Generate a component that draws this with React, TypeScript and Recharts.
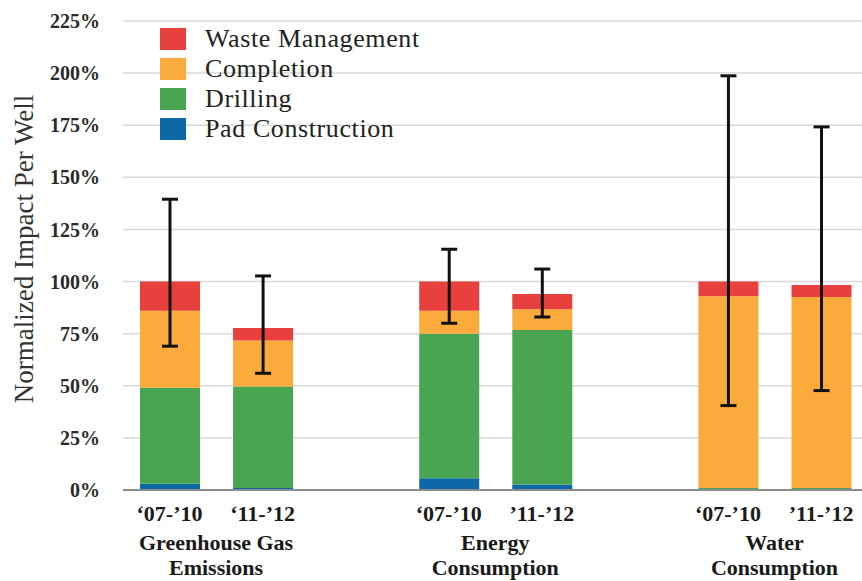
import React from "react";
import {
  BarChart, Bar, XAxis, YAxis, CartesianGrid, ErrorBar, Legend, Label,
} from "recharts";

// period labels under each bar, and the slot each bar sits in (empty slots separate the groups)
const periods = ["‘07-’10", "‘11-’12", "‘07-’10", "’11-’12", "‘07-’10", "’11-’12"];
const slots = [0, 1, 3, 4, 6, 7];

const groupNames = [["Greenhouse Gas", "Emissions"], ["Energy", "Consumption"], ["Water", "Consumption"]];
const groupSlots = [0.5, 3.5, 6.5];

// stacked shares, % of the '07-'10 total
const padConstruction = [3, 1, 5.6, 2.6, 0, 0];
const drilling = [46, 48.7, 69.4, 74.1, 1, 1];
const completion = [37, 22, 11, 10, 92, 91.6];
const wasteManagement = [14, 6, 14, 7.3, 7, 5.8];

// range of the error bars (absolute %)
const errLow = [69, 56, 80, 83, 40.5, 47.7];
const errHigh = [139.5, 102.7, 115.5, 106, 198.7, 174.2];

const yTicks = [0, 25, 50, 75, 100, 125, 150, 175, 200, 225];

const legendItems = [
  { name: "Waste Management", color: "#e8403c" },
  { name: "Completion", color: "#fbab3c" },
  { name: "Drilling", color: "#4aa552" },
  { name: "Pad Construction", color: "#0c69a6" },
];

const data = periods.map((p, i) => {
  const total = padConstruction[i] + drilling[i] + completion[i] + wasteManagement[i];
  return {
    slot: slots[i],
    period: p,
    pad: padConstruction[i],
    drilling: drilling[i],
    completion: completion[i],
    waste: wasteManagement[i],
    err: [total - errLow[i], errHigh[i] - total],
  };
});

const SERIF = "'Liberation Serif', 'Times New Roman', serif";

function PeriodTick({ x, y, payload }: any) {
  const i = slots.indexOf(payload.value);
  return (
    <text x={x} y={y + 23} textAnchor="middle" dominantBaseline="central"
      fontFamily={SERIF} fontWeight="bold" fontSize={22} fill="#1a1a1a">
      {periods[i]}
    </text>
  );
}

function GroupTick({ x, y, payload }: any) {
  const i = groupSlots.indexOf(payload.value);
  const lines = groupNames[i] || [];
  return (
    <text x={x} textAnchor="middle" fontFamily={SERIF} fontWeight="bold" fontSize={22} fill="#1a1a1a">
      {lines.map((l, k) => (
        <tspan key={k} x={x} y={y + 12 + k * 25} dominantBaseline="central">{l}</tspan>
      ))}
    </text>
  );
}

function renderLegend() {
  return (
    <div style={{ fontFamily: SERIF, fontSize: 26, letterSpacing: 0.6, color: "#222" }}>
      {legendItems.map((it) => (
        <div key={it.name} style={{ display: "flex", alignItems: "center", height: 30 }}>
          <span style={{ width: 26, height: 22, background: it.color, marginRight: 19, display: "inline-block" }} />
          <span style={{ lineHeight: "30px" }}>{it.name}</span>
        </div>
      ))}
    </div>
  );
}

export default function App() {
  return (
    <div style={{ position: "absolute", left: 0, top: 0, width: 862, height: 581, background: "#fff" }}>
      <BarChart width={862} height={581} data={data} margin={{ top: 21, right: 0, bottom: 0, left: 0 }}>
        <CartesianGrid xAxisId="a" vertical={false} stroke="#d9d9d9" strokeWidth={1.5} />
        <XAxis xAxisId="a" type="number" dataKey="slot" domain={[-0.5, 7.44]} ticks={slots}
          allowDataOverflow height={40} tickSize={0} tickMargin={0} tick={<PeriodTick />}
          axisLine={{ stroke: "#8c8c8c", strokeWidth: 2 }} tickLine={false} interval={0} />
        <XAxis xAxisId="b" type="number" dataKey="slot" domain={[-0.5, 7.44]} ticks={groupSlots}
          allowDataOverflow height={51} tickSize={0} tickMargin={0} tick={<GroupTick />}
          axisLine={false} tickLine={false} interval={0} />
        <YAxis domain={[0, 225]} ticks={yTicks} width={123} tickSize={0} tickMargin={23}
          axisLine={false} tickLine={false} interval={0}
          tickFormatter={(v) => `${v}%`}
          tick={{ fontFamily: SERIF, fontWeight: "bold", fontSize: 20, fill: "#2a2a2a" }}>
          <Label content={() => (
            <text x={24} y={249} transform="rotate(-90 24 249)" textAnchor="middle" dominantBaseline="central"
              fontFamily={SERIF} fontSize={27} fill="#333">
              Normalized Impact Per Well
            </text>
          )} />
        </YAxis>
        <Legend layout="vertical" align="center" verticalAlign="middle" content={renderLegend}
          wrapperStyle={{ top: 24, left: 160, width: "auto", bottom: "auto" }} />
        <Bar xAxisId="a" dataKey="pad" stackId="s" fill="#0c69a6" barSize={60} isAnimationActive={false} />
        <Bar xAxisId="a" dataKey="drilling" stackId="s" fill="#4aa552" barSize={60} isAnimationActive={false} />
        <Bar xAxisId="a" dataKey="completion" stackId="s" fill="#fbab3c" barSize={60} isAnimationActive={false} />
        <Bar xAxisId="a" dataKey="waste" stackId="s" fill="#e8403c" barSize={60} isAnimationActive={false}>
          <ErrorBar dataKey="err" width={8} stroke="#111" strokeWidth={3} direction="y" isAnimationActive={false} />
        </Bar>
      </BarChart>
    </div>
  );
}
